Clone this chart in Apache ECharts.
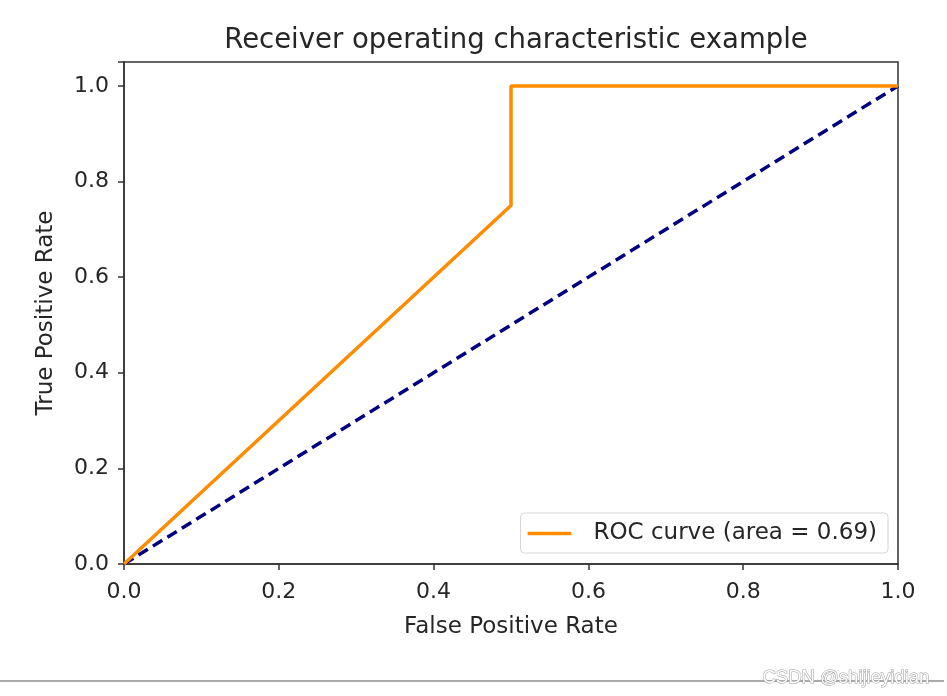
<!DOCTYPE html>
<html><head><meta charset="utf-8">
<script src="https://cdn.jsdelivr.net/npm/echarts@6/dist/echarts.min.js"></script>
<style>html,body{margin:0;padding:0;background:#fff}#c{width:947px;height:696px}</style>
</head><body><div id="c"></div>
<script>
const rocFpr = [0, 0.5, 0.5, 1];
const rocTpr = [0, 0.75, 1, 1];
const diagX = [0, 1];
const diagY = [0, 1];
const ticks = [0, 0.2, 0.4, 0.6, 0.8, 1.0];
const rocName = 'ROC curve (area = 0.69)';

const font = 'DejaVu Sans';
const chart = echarts.init(document.getElementById('c'));
const axisCommon = {
  min: 0, max: 1, interval: 0.2,
  axisLine: {show: true, onZero: false, lineStyle: {color: '#333', width: 1.5}},
  axisTick: {show: true, length: 6, lineStyle: {color: '#333', width: 1.5}},
  splitLine: {show: false},
  axisLabel: {color: '#262626', fontFamily: font, fontSize: 22, formatter: v => v.toFixed(1)},
  nameLocation: 'middle',
  nameTextStyle: {color: '#262626', fontFamily: font, fontSize: 23}
};
chart.setOption({
  animation: false,
  title: {text: 'Receiver operating characteristic example', left: 511, textAlign: 'center', top: 22,
    textStyle: {color: '#262626', fontFamily: font, fontSize: 27.5, fontWeight: 'normal'}},
  grid: {left: 124, top: 62, width: 774, height: 502, show: true, borderColor: '#333', borderWidth: 1.5},
  xAxis: Object.assign({}, axisCommon, {type: 'value', name: 'False Positive Rate', nameGap: 52,
    min: 0, max: 1, axisLabel: Object.assign({}, axisCommon.axisLabel, {margin: 17})}),
  yAxis: Object.assign({}, axisCommon, {type: 'value', name: 'True Positive Rate', nameGap: 66,
    min: 0, max: 1.05, axisLabel: Object.assign({}, axisCommon.axisLabel, {margin: 15,
      formatter: v => (Math.abs(v - 1.05) < 1e-9 ? '' : v.toFixed(1))})}),
  legend: {show: true, right: 59, bottom: 143, orient: 'vertical',
    data: [{name: rocName, icon: 'path://M0,0 L50,0 L50,4 L0,4 Z'}],
    itemWidth: 48, itemHeight: 3.5, itemGap: 10,
    padding: [9, 11, 8, 7],
    borderColor: '#d5d5d5', borderWidth: 1, borderRadius: 4, backgroundColor: '#fff',
    textStyle: {color: '#262626', fontFamily: font, fontSize: 23, padding: [0, 0, 0, 15]}},
  series: [
    {name: rocName, type: 'line', data: rocFpr.map((x, i) => [x, rocTpr[i]]), showSymbol: false,
      lineStyle: {color: '#ff8c00', width: 3.5}, itemStyle: {color: '#ff8c00'}, z: 3},
    {name: 'diag', type: 'line', data: diagX.map((x, i) => [x, diagY[i]]), showSymbol: false,
      lineStyle: {color: '#000080', width: 3.5, type: [11, 6]}, itemStyle: {color: '#000080'}, z: 2}
  ],
  graphic: [
    {type: 'line', shape: {x1: 0, y1: 681, x2: 944, y2: 681}, style: {stroke: '#aaa', lineWidth: 2}},
    {type: 'text', left: 762, top: 668, style: {text: 'CSDN @shijieyidian', fill: '#fff', stroke: '#999',
      lineWidth: 1, font: '18.5px "Liberation Sans"'}}
  ]
});
</script></body></html>
